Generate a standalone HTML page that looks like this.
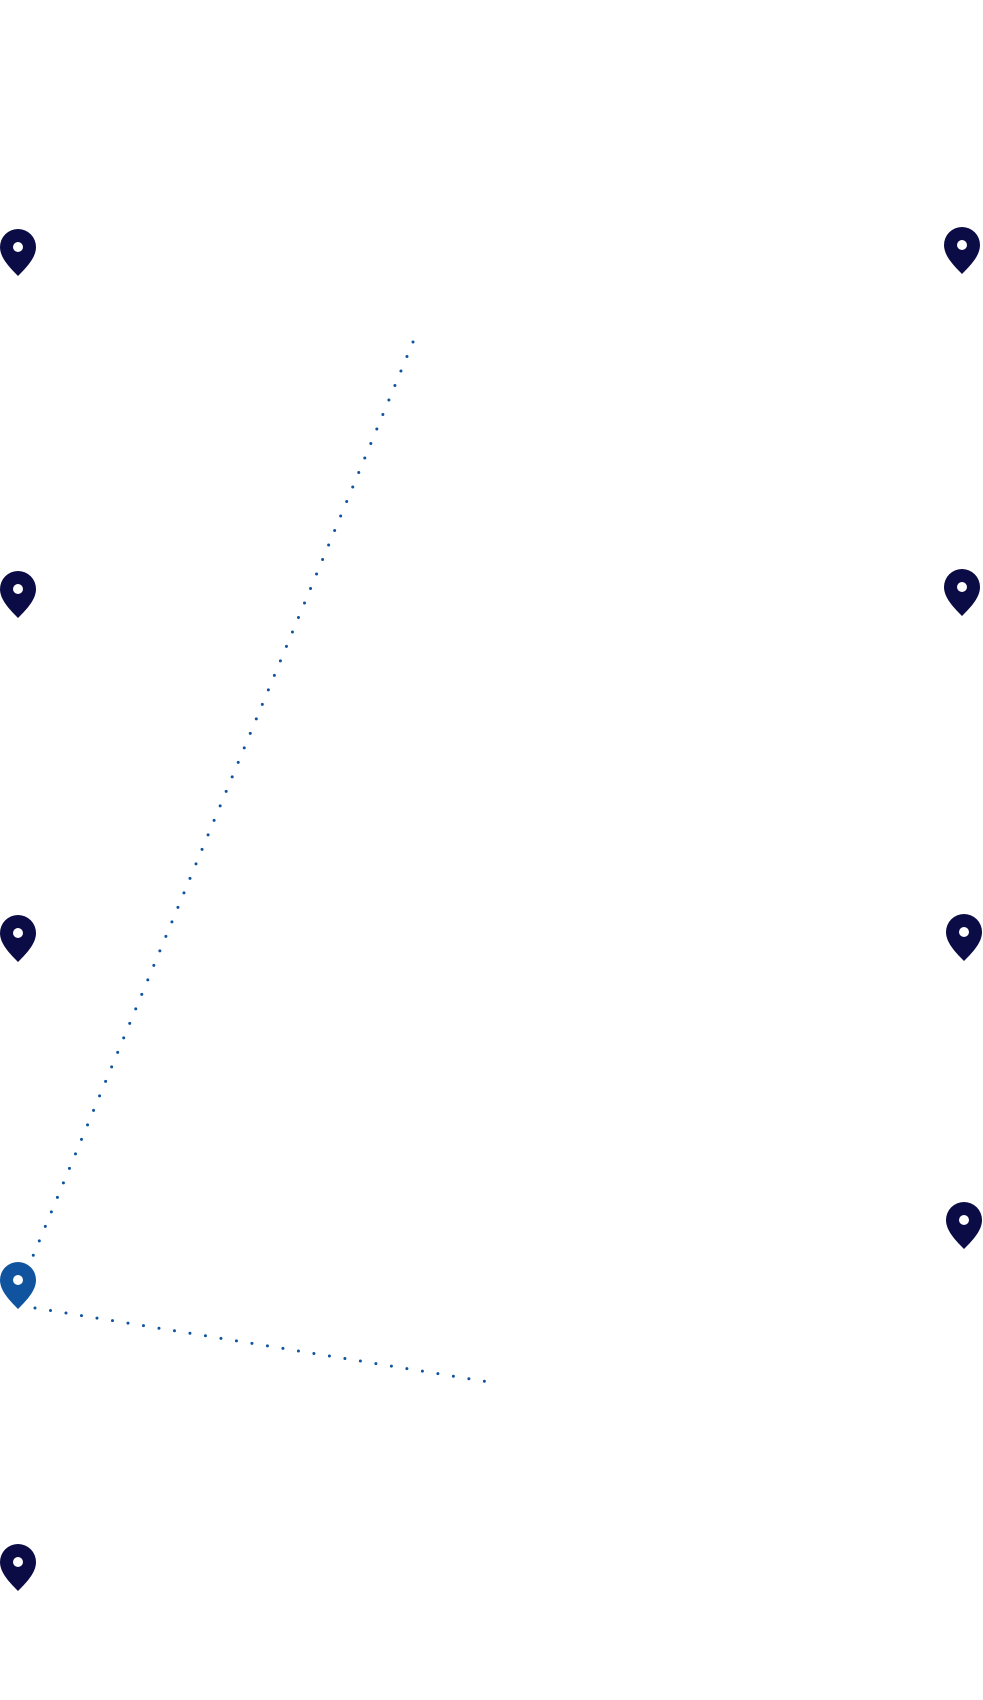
<!DOCTYPE html>
<html><head><meta charset="utf-8"><style>html,body{margin:0;padding:0;background:#fff}svg{display:block}</style></head>
<body>
<svg width="983" height="1700" viewBox="0 0 983 1700" xmlns="http://www.w3.org/2000/svg">
<defs>
<g id="pin"><path d="M18 47 C8 37 0 28 0 18 A18 18 0 0 1 36 18 C36 28 28 37 18 47Z"/><circle cx="18" cy="18" r="5" fill="#fff"/></g>
</defs>
<g stroke="#1054a0" stroke-width="3" stroke-linecap="round" stroke-dasharray="0 15.7" fill="none">
<line x1="413" y1="342" x2="33" y2="1256"/>
<line x1="35" y1="1308" x2="495" y2="1383"/>
</g>
<g fill="#0b0b45">
<use href="#pin" x="0" y="229"/>
<use href="#pin" x="0" y="571"/>
<use href="#pin" x="0" y="915"/>
<use href="#pin" x="0" y="1544"/>
<use href="#pin" x="944" y="227"/>
<use href="#pin" x="944" y="569"/>
<use href="#pin" x="946" y="914"/>
<use href="#pin" x="946" y="1202"/>
</g>
<use href="#pin" x="0" y="1262" fill="#1054a0"/>
</svg>
</body></html>
